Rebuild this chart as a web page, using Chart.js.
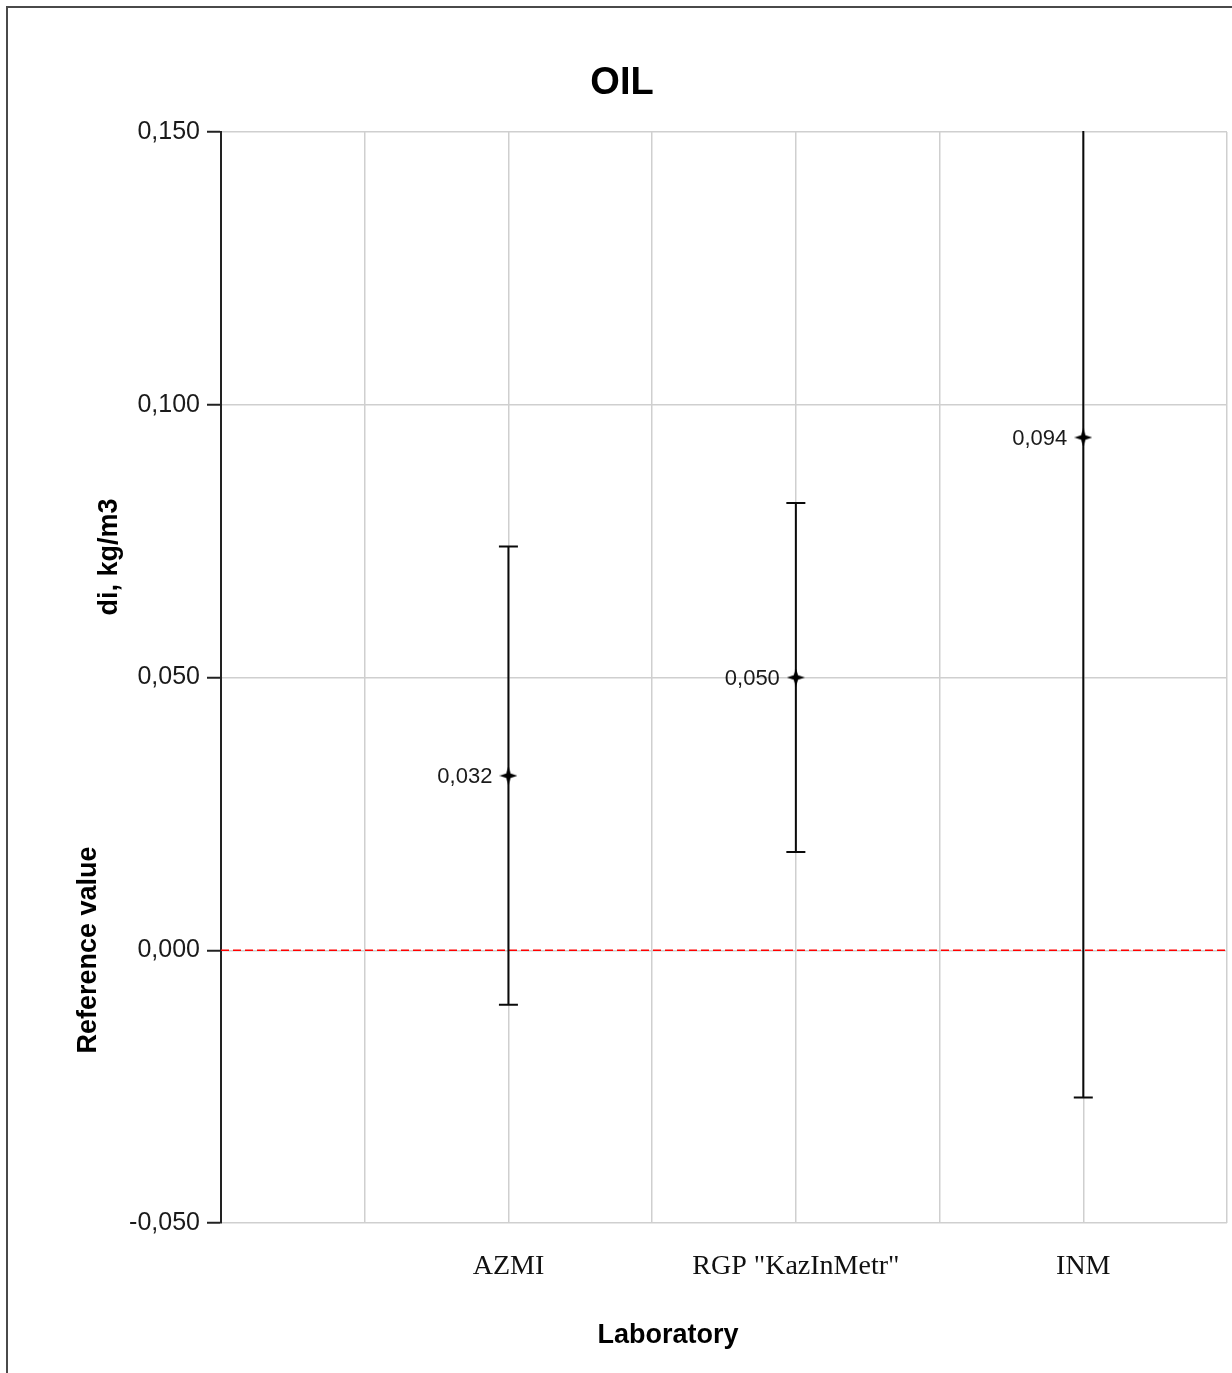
<!DOCTYPE html>
<html>
<head>
<meta charset="utf-8">
<script src="https://cdn.jsdelivr.net/npm/chart.js@4.4.1/dist/chart.umd.min.js"></script>
<style>
  html, body { margin: 0; padding: 0; background: #fff; }
  #wrap { position: absolute; left: 0; top: 0; width: 1232px; height: 1373px; }
</style>
</head>
<body>
<div id="wrap"><canvas id="c" width="1232" height="1373"></canvas></div>
<script>
// ---- data ----
const chartTitle = 'OIL';
const laboratories = ['AZMI', 'RGP "KazInMetr"', 'INM'];
const labPositions = [2, 4, 6];            // x-axis value of each laboratory
const diValues = [0.032, 0.050, 0.094];    // di, kg/m3
const uncertainty = [0.042, 0.032, 0.121]; // expanded uncertainty (error bar half-length)
const referenceValue = 0.000;
const xMin = 0, xMax = 7;
const yMin = -0.05, yMax = 0.15, yStep = 0.05;
const xTitle = 'Laboratory';
const yTitleUpper = 'di, kg/m3';
const yTitleLower = 'Reference value';

function fmt(v, d) {
  if (Math.abs(v) < 1e-9) v = 0;
  return v.toFixed(d).replace('.', ',');
}

// four-point star marker
const marker = document.createElement('canvas');
marker.width = 18; marker.height = 18;
(function () {
  const g = marker.getContext('2d');
  g.fillStyle = '#000';
  g.beginPath();
  g.moveTo(9, 0); g.lineTo(11.2, 6.8); g.lineTo(18, 9); g.lineTo(11.2, 11.2);
  g.lineTo(9, 18); g.lineTo(6.8, 11.2); g.lineTo(0, 9); g.lineTo(6.8, 6.8);
  g.closePath(); g.fill();
})();

const points = diValues.map((v, i) => ({ x: labPositions[i], y: v }));

const decorPlugin = {
  id: 'decor',
  beforeDraw(chart) {
    const ctx = chart.ctx;
    ctx.save();
    ctx.fillStyle = '#fff';
    ctx.fillRect(0, 0, chart.width, chart.height);
    ctx.strokeStyle = '#4a4a4a';
    ctx.lineWidth = 2;
    ctx.beginPath();
    ctx.moveTo(7, chart.height);
    ctx.lineTo(7, 7);
    ctx.lineTo(chart.width, 7);
    ctx.stroke();
    ctx.restore();
  },
  beforeDatasetsDraw(chart) {
    const ctx = chart.ctx, a = chart.chartArea;
    const xs = chart.scales.x, ys = chart.scales.y;
    ctx.save();
    ctx.beginPath();
    ctx.rect(a.left, a.top - 1, a.right - a.left, a.bottom - a.top + 2);
    ctx.clip();
    // reference line
    const yr = ys.getPixelForValue(referenceValue);
    ctx.strokeStyle = '#ff0000';
    ctx.lineWidth = 1.5;
    ctx.setLineDash([8, 4]);
    ctx.beginPath();
    ctx.moveTo(a.left, yr); ctx.lineTo(a.right, yr);
    ctx.stroke();
    ctx.setLineDash([]);
    // error bars
    ctx.strokeStyle = '#0a0a0a';
    ctx.lineWidth = 2;
    diValues.forEach((v, i) => {
      const px = xs.getPixelForValue(labPositions[i]);
      const yTop = ys.getPixelForValue(v + uncertainty[i]);
      const yBot = ys.getPixelForValue(v - uncertainty[i]);
      ctx.beginPath();
      ctx.moveTo(px, yTop); ctx.lineTo(px, yBot);
      ctx.moveTo(px - 9.5, yTop); ctx.lineTo(px + 9.5, yTop);
      ctx.moveTo(px - 9.5, yBot); ctx.lineTo(px + 9.5, yBot);
      ctx.stroke();
    });
    ctx.restore();
  },
  afterDatasetsDraw(chart) {
    const ctx = chart.ctx;
    const xs = chart.scales.x, ys = chart.scales.y;
    ctx.save();
    ctx.font = '22px "Liberation Sans", Arial, sans-serif';
    ctx.fillStyle = '#1a1a1a';
    ctx.textAlign = 'right';
    ctx.textBaseline = 'middle';
    diValues.forEach((v, i) => {
      ctx.fillText(fmt(v, 3), xs.getPixelForValue(labPositions[i]) - 16, ys.getPixelForValue(v) + 1);
    });
    ctx.restore();
  },
  afterDraw(chart) {
    const ctx = chart.ctx;
    ctx.save();
    ctx.fillStyle = '#000';
    ctx.textAlign = 'center';
    ctx.textBaseline = 'middle';
    ctx.font = 'bold 38px "Liberation Sans", Arial, sans-serif';
    ctx.fillText(chartTitle, 622, 84);
    ctx.font = 'bold 27px "Liberation Sans", Arial, sans-serif';
    ctx.fillText(xTitle, 668, 1336);
    ctx.save();
    ctx.translate(110, 557);
    ctx.rotate(-Math.PI / 2);
    ctx.fillText(yTitleUpper, 0, 0);
    ctx.restore();
    ctx.save();
    ctx.translate(89, 950);
    ctx.rotate(-Math.PI / 2);
    ctx.fillText(yTitleLower, 0, 0);
    ctx.restore();
    ctx.restore();
  }
};

new Chart(document.getElementById('c'), {
  type: 'scatter',
  data: {
    datasets: [{
      label: 'di',
      data: points,
      pointStyle: marker,
      pointRadius: 9,
      pointHoverRadius: 9,
      showLine: false
    }]
  },
  options: {
    responsive: false,
    animation: false,
    events: [],
    layout: { autoPadding: false, padding: { left: 0, top: 132, right: 5, bottom: 0 } },
    plugins: { legend: { display: false }, tooltip: { enabled: false }, title: { display: false } },
    scales: {
      x: {
        type: 'linear',
        min: xMin, max: xMax,
        afterFit(s) { s.height = 150; },
        border: { display: false },
        grid: { color: '#cfcfcf', lineWidth: 1.5, drawTicks: true, tickLength: 27, tickColor: 'rgba(0,0,0,0)' },
        ticks: {
          stepSize: 1,
          autoSkip: false,
          maxRotation: 0,
          padding: 0,
          color: '#111',
          font: { family: '"Liberation Serif", "Times New Roman", serif', size: 28 },
          callback(v) {
            const idx = labPositions.indexOf(v);
            return idx >= 0 ? laboratories[idx] : '';
          }
        }
      },
      y: {
        min: yMin, max: yMax,
        afterFit(s) { s.width = 221; },
        border: { display: true, color: '#222', width: 2 },
        grid: { color: '#cfcfcf', lineWidth: 1.5, drawTicks: true, tickLength: 14, tickColor: '#222', tickWidth: 2 },
        ticks: {
          stepSize: yStep,
          padding: 7,
          color: '#1a1a1a',
          font: { family: '"Liberation Sans", Arial, sans-serif', size: 25 },
          callback(v) { return fmt(v, 3); }
        }
      }
    }
  },
  plugins: [decorPlugin]
});
</script>
</body>
</html>
